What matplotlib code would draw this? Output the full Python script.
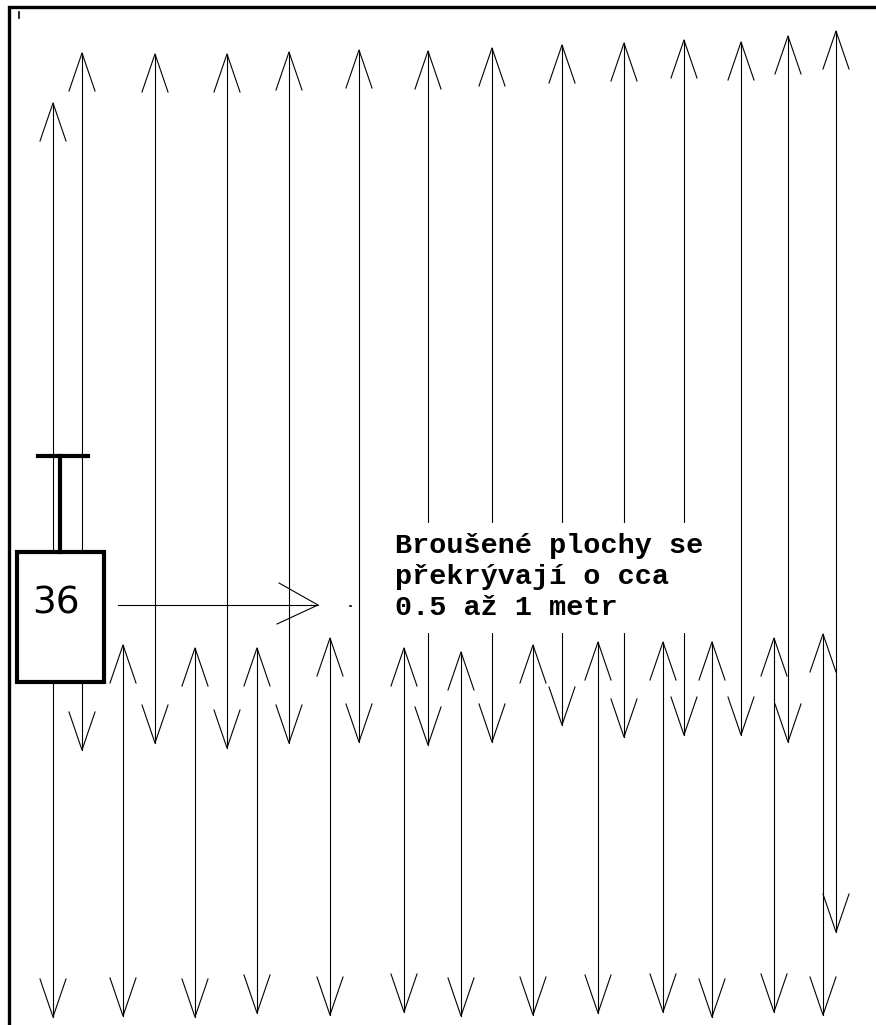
import matplotlib
matplotlib.use("Agg")
import matplotlib.pyplot as plt
from matplotlib.patches import Rectangle

# horní pásy: šipka nahoru nahoře, šipka dolů uprostřed (pixelové souřadnice obrázku)
upper_x = [82, 155, 227, 289, 359, 428, 492, 562, 624, 684, 741, 788, 836]
upper_top = [53, 54, 54, 52, 50, 51, 48, 45, 43, 40, 42, 36, 31]
upper_bottom = [750, 743, 748, 743, 742, 745, 742, 725, 737, 735, 735, 742, 932]

# dolní pásy: šipka nahoru uprostřed, šipka dolů dole
lower_x = [53, 123, 195, 257, 330, 404, 461, 533, 598, 663, 712, 774, 823]
lower_top = [103, 645, 648, 648, 638, 648, 652, 645, 642, 642, 642, 638, 634]
lower_bottom = [1017, 1016, 1017, 1013, 1015, 1012, 1016, 1015, 1013, 1012, 1017, 1012, 1015]

machine_label = "36"
note_lines = ["Broušené plochy se", "překrývají o cca", "0.5 až 1 metr"]

W, H = 876, 1025
LW = 0.8
HEAD_LEN = 38
HEAD_HW = 13

fig = plt.figure(figsize=(W / 100, H / 100), dpi=100)
ax = fig.add_axes([0, 0, 1, 1])
ax.set_xlim(0, W)
ax.set_ylim(H, 0)
ax.axis("off")


def head_up(x, y):
    ax.plot([x - HEAD_HW, x, x + HEAD_HW], [y + HEAD_LEN, y, y + HEAD_LEN], color="black", lw=LW)


def head_down(x, y):
    ax.plot([x - HEAD_HW, x, x + HEAD_HW], [y - HEAD_LEN, y, y - HEAD_LEN], color="black", lw=LW)


def double_arrow(x, top, bottom):
    ax.plot([x, x], [top, bottom], color="black", lw=LW)
    head_up(x, top)
    head_down(x, bottom)


for x, t, b in zip(upper_x, upper_top, upper_bottom):
    double_arrow(x, t, b)
for x, t, b in zip(lower_x, lower_top, lower_bottom):
    double_arrow(x, t, b)

# rám
ax.plot([8.5, 8.5, W], [H, 6.5, 6.5], color="black", lw=2.4, solid_joinstyle="miter")
ax.plot([19, 19], [12, 18], color="black", lw=1.2)

# bruska s rukojetí
ax.add_patch(Rectangle((17, 552), 87, 130, fill=True, facecolor="white",
                       edgecolor="black", lw=3.0, zorder=3))
ax.plot([60, 60], [456, 552], color="black", lw=3.0, zorder=3)
ax.plot([38, 88], [456, 456], color="black", lw=3.0, zorder=3)
ax.text(56, 604, machine_label, ha="center", va="center", fontsize=27,
        family="DejaVu Sans", zorder=4)

# vodorovná šipka k poznámce
ax.plot([118, 318], [605, 605], color="black", lw=LW)
ax.plot([279, 318, 277], [583, 605, 624], color="black", lw=LW)
ax.plot([350, 351], [606, 606], color="black", lw=1.2)

# bílé pozadí poznámky zakrývá čáry
ax.add_patch(Rectangle((388, 523), 337, 110, facecolor="white", edgecolor="none", zorder=3))
for i, line in enumerate(note_lines):
    ax.text(395, 553 + i * 31, line, ha="left", va="baseline", fontsize=20.5,
            family="Liberation Mono", fontweight="bold", zorder=4)

fig.savefig("out.png", dpi=100, facecolor="white")
